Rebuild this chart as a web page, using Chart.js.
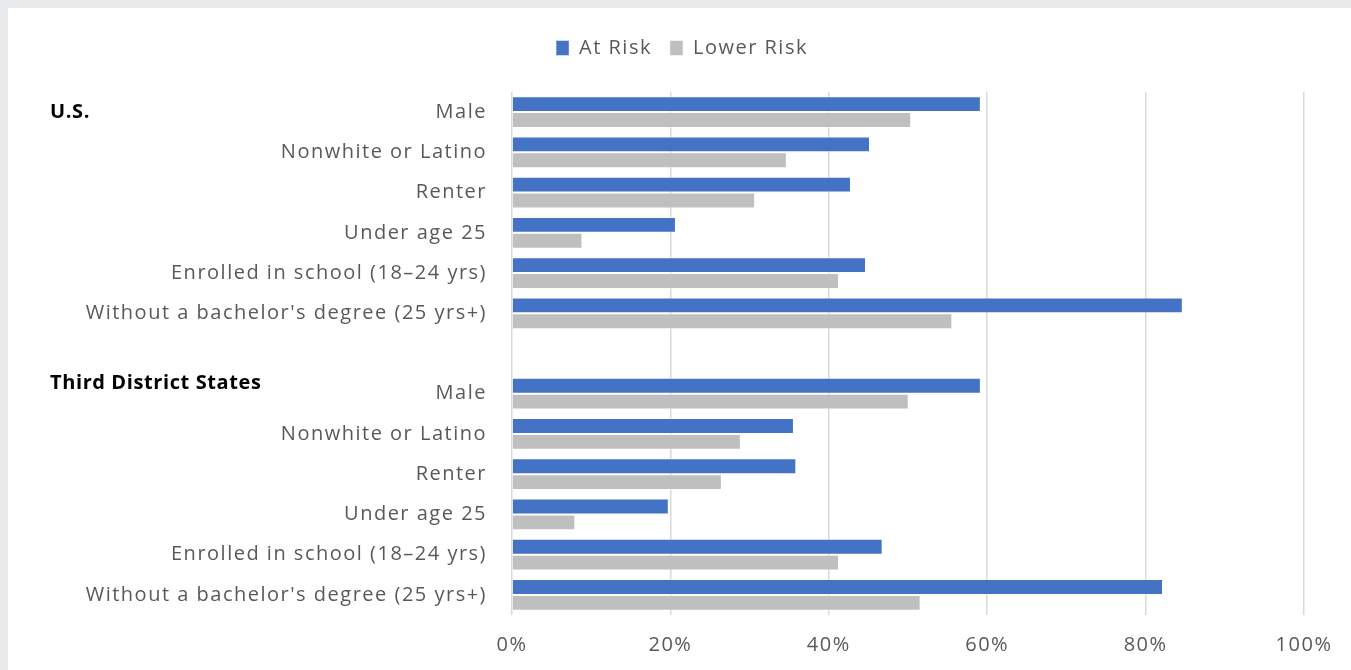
<!DOCTYPE html>
<html>
<head>
<meta charset="utf-8">
<script src="https://cdn.jsdelivr.net/npm/chart.js@4.4.0/dist/chart.umd.min.js"></script>
<style>
  html, body { margin: 0; padding: 0; background: #e9eaec; }
  #card { position: absolute; left: 8px; top: 8px; width: 1343px; height: 662px; background: #ffffff; }
  canvas { display: block; }
</style>
</head>
<body>
<div id="card"><canvas id="myChart" width="1343" height="662"></canvas></div>
<script>
// categories (blank row separates the two groups)
var categories = [
  "Male", "Nonwhite or Latino", "Renter", "Under age 25",
  "Enrolled in school (18\u201324 yrs)", "Without a bachelor's degree (25 yrs+)",
  "",
  "Male", "Nonwhite or Latino", "Renter", "Under age 25",
  "Enrolled in school (18\u201324 yrs)", "Without a bachelor's degree (25 yrs+)"
];
var atRisk    = [59.2, 45.2, 42.8, 20.7, 44.7, 84.7, null, 59.2, 35.6, 35.9, 19.8, 46.8, 82.2];
var lowerRisk = [50.4, 34.7, 30.7, 8.9, 41.3, 55.6, null, 50.1, 28.9, 26.5, 8.0, 41.3, 51.6];
var groupLabels = ["U.S.", "Third District States"];
var groupIndex = [0, 7];
var xTicks = [0, 20, 40, 60, 80, 100];

var font = "'Open Sans'";

// the original text is spaced out a little wider than Open Sans
function spacing(chart) { chart.ctx.letterSpacing = "1.5px"; }

// bold group headings on the left, placed from the category scale
var groupLabelPlugin = {
  id: "groupLabels",
  beforeInit: function(chart) {
    // leave extra room under the legend
    var fit = chart.legend.fit;
    chart.legend.fit = function() {
      fit.call(this);
      this.height = 72;
    };
  },
  beforeUpdate: spacing,
  beforeLayout: spacing,
  afterLayout: function(chart) {
    // centre the legend on the whole card, not on the padded area
    chart.legend.left += 26;
    chart.legend.right += 26;
  },
  beforeDraw: spacing,
  afterDraw: function(chart) {
    var ctx = chart.ctx;
    var y = chart.scales.y;
    ctx.save();
    ctx.letterSpacing = "0.6px";
    ctx.font = "bold 20px " + font;
    ctx.fillStyle = "#000000";
    ctx.textAlign = "left";
    ctx.textBaseline = "middle";
    groupLabels.forEach(function(txt, i) {
      var py = y.getPixelForValue(groupIndex[i]) + (i === 0 ? 0 : -10);
      ctx.fillText(txt, 42, py);
    });
    ctx.restore();
  }
};

var ctx = document.getElementById("myChart").getContext("2d");
new Chart(ctx, {
  type: "bar",
  data: {
    labels: categories,
    datasets: [
      {
        label: "At Risk",
        data: atRisk,
        backgroundColor: "#4472C4",
        borderColor: "rgba(255,255,255,0.45)",
        borderWidth: 1,
        barPercentage: 1,
        categoryPercentage: 0.79
      },
      {
        label: "Lower Risk",
        data: lowerRisk,
        backgroundColor: "#BFBFBF",
        borderColor: "rgba(255,255,255,0.45)",
        borderWidth: 1,
        barPercentage: 1,
        categoryPercentage: 0.79
      }
    ]
  },
  options: {
    indexAxis: "y",
    responsive: false,
    animation: false,
    layout: { padding: { top: 12, right: 47, bottom: 0, left: 0 } },
    plugins: {
      legend: {
        position: "top",
        labels: {
          boxWidth: 13,
          boxHeight: 15,
          padding: 18,
          color: "#595959",
          font: { family: font, size: 20 }
        }
      },
      tooltip: { enabled: false }
    },
    scales: {
      x: {
        min: 0,
        max: 100,
        afterBuildTicks: function(scale) {
          scale.ticks = xTicks.map(function(v) { return { value: v }; });
        },
        afterFit: function(scale) { scale.height = 55; },
        ticks: {
          color: "#595959",
          font: { family: font, size: 20 },
          padding: 18,
          callback: function(v) { return v + "%"; }
        },
        grid: { color: "#d9d9d9", lineWidth: 1.5, drawTicks: false },
        border: { display: false }
      },
      y: {
        afterFit: function(scale) { scale.width = 504; },
        ticks: {
          color: "#595959",
          font: { family: font, size: 20 },
          padding: 17,
          autoSkip: false
        },
        grid: { display: false },
        border: { display: false }
      }
    }
  },
  plugins: [groupLabelPlugin]
});
</script>
</body>
</html>
